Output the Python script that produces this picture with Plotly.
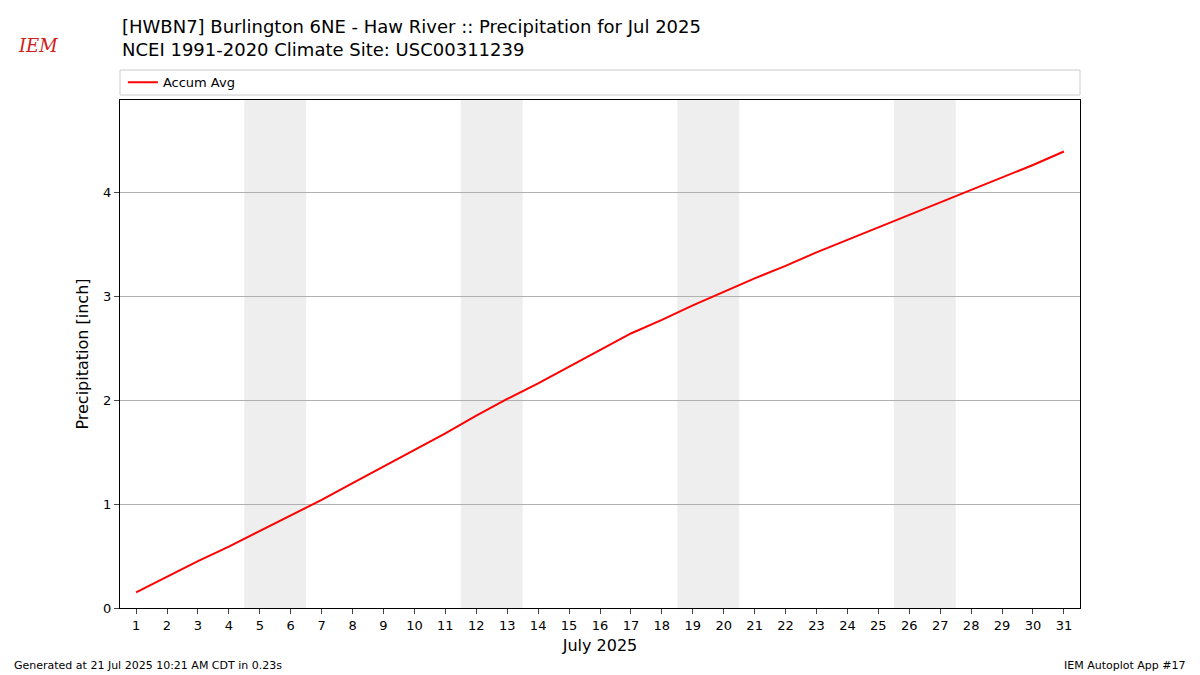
import plotly.graph_objects as go

days = list(range(1, 32))
accum_avg = [0.15, 0.30, 0.45, 0.59, 0.74, 0.89, 1.04, 1.20, 1.36, 1.52,
             1.68, 1.85, 2.01, 2.16, 2.32, 2.48, 2.64, 2.77, 2.91, 3.04,
             3.17, 3.29, 3.42, 3.54, 3.66, 3.78, 3.90, 4.02, 4.14, 4.26, 4.39]
weekends = [(4.5, 6.5), (11.5, 13.5), (18.5, 20.5), (25.5, 27.5)]

fig = go.Figure()
fig.add_trace(go.Scatter(x=days, y=accum_avg, mode="lines", name="Accum Avg",
                         line=dict(color="red", width=2)))

for x0, x1 in weekends:
    fig.add_vrect(x0=x0, x1=x1, fillcolor="#eeeeee", line_width=0, layer="below")

# legend frame spanning the axes width
fig.add_shape(type="rect", xref="paper", yref="paper", x0=0, x1=1, y0=1.0098, y1=1.059,
              line=dict(color="#cccccc", width=1), fillcolor="white")

fig.update_layout(
    width=1200, height=675,
    margin=dict(l=112, r=128, t=92, b=75),
    paper_bgcolor="white", plot_bgcolor="white",
    font=dict(family="DejaVu Sans", size=13, color="black"),
    showlegend=True,
    legend=dict(x=0.003, y=1.035, xanchor="left", yanchor="middle",
                orientation="h", bgcolor="rgba(0,0,0,0)", font=dict(size=13)),
    xaxis=dict(range=[0.48, 31.52], tickmode="array", tickvals=days,
               ticktext=[str(d) for d in days], showgrid=False, zeroline=False,
               showline=True, linecolor="black", mirror=True, ticks="outside",
               tickfont=dict(size=13),
               title=dict(text="July 2025", font=dict(size=16), standoff=8)),
    yaxis=dict(range=[0, 4.885], tickvals=[0, 1, 2, 3, 4], showgrid=True,
               gridcolor="#b0b0b0", zeroline=False, showline=True, linecolor="black",
               mirror=True, ticks="outside", tickfont=dict(size=13),
               title=dict(text="Precipitation [inch]", font=dict(size=16), standoff=10)),
)

fig.add_annotation(text="[HWBN7] Burlington 6NE - Haw River :: Precipitation for Jul 2025<br>"
                        "NCEI 1991-2020 Climate Site: USC00311239",
                   xref="paper", yref="paper", x=0, y=1.075, xanchor="left", yanchor="bottom",
                   align="left", showarrow=False, font=dict(size=18))
fig.add_annotation(text="<i>IEM</i>", xref="paper", yref="paper", x=-0.085, y=1.108,
                   xanchor="center", yanchor="middle", showarrow=False,
                   font=dict(family="DejaVu Serif", size=18, color="#d02020"))
fig.add_annotation(text="Generated at 21 Jul 2025 10:21 AM CDT in 0.23s", xref="paper",
                   yref="paper", x=-0.1125, y=-0.114, xanchor="left", yanchor="middle",
                   showarrow=False, font=dict(size=11))
fig.add_annotation(text="IEM Autoplot App #17", xref="paper", yref="paper", x=1.1125,
                   y=-0.114, xanchor="right", yanchor="middle", showarrow=False,
                   font=dict(size=11))

fig.write_html("out.html")
